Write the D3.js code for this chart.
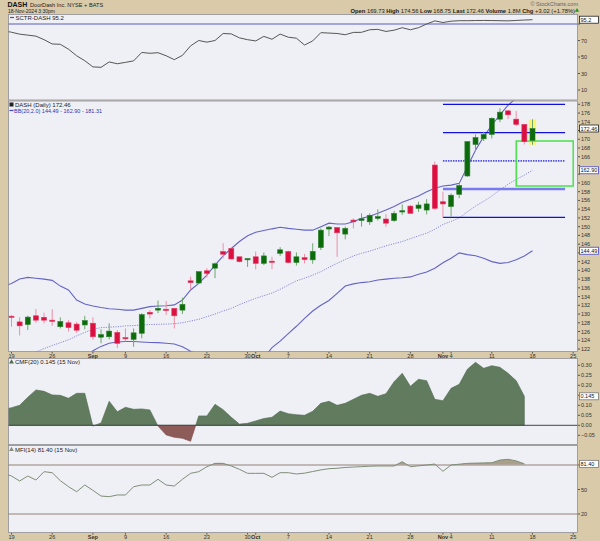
<!DOCTYPE html>
<html><head><meta charset="utf-8">
<script src="https://cdn.jsdelivr.net/npm/d3@7"></script>
<style>body{margin:0;background:#fff}svg{display:block}text{font-family:"Liberation Sans",Arial,sans-serif}</style>
</head><body><svg id="c" width="600" height="541"></svg>
<script>
// ---------- DATA ----------
const days = ["08-16","08-19","08-20","08-21","08-22","08-23","08-26","08-27","08-28","08-29","08-30",
"09-03","09-04","09-05","09-06","09-09","09-10","09-11","09-12","09-13","09-16","09-17","09-18","09-19","09-20",
"09-23","09-24","09-25","09-26","09-27","09-30","10-01","10-02","10-03","10-04","10-07","10-08","10-09","10-10","10-11",
"10-14","10-15","10-16","10-17","10-18","10-21","10-22","10-23","10-24","10-25","10-28","10-29","10-30","10-31",
"11-01","11-04","11-05","11-06","11-07","11-08","11-11","11-12","11-13","11-14","11-15","11-18",
"11-19","11-20","11-21","11-22","11-25"];
const tickDays = ["08-19","08-26","09-03","09-09","09-16","09-23","09-30","10-01","10-07","10-14","10-21","10-28","11-01","11-04","11-11","11-18","11-25"];
const tickText = ["19","26","Sep","9","16","23","30","Oct","7","14","21","28","Nov","4","11","18","25"];
const tickBold = ["Sep","Oct","Nov"];

const open  = [129.0,129.5,128.2,127.6,129.6,129.25,128.6,127.1,128.0,127.7,127.5,127.9,124.7,124.8,125.8,124.6,124.2,125.6,130.4,130.9,131.1,131.3,130.9,137.6,137.1,139.9,140.5,144.3,145.0,143.1,142.4,143.1,141.6,142.1,143.9,144.3,141.8,142.9,142.4,145.2,149.45,149.8,148.3,151.5,151.4,151.1,151.9,151.75,151.4,153.35,154.7,154.2,153.8,164.1,155.7,154.6,157.4,161.6,168.8,170.1,171.1,174.6,176.5,174.6,173.4,169.73];
const high  = [130.0,129.8,129.25,129.6,131.15,130.3,131.1,129.25,128.6,128.2,129.6,129.25,126.5,127.9,126.35,126.7,126.7,130.2,130.9,133.1,133.0,131.3,133.75,138.6,139.7,140.5,141.8,146.2,145.0,143.1,142.7,144.3,144.1,143.1,145.3,144.5,144.1,143.75,146.2,149.6,150.15,149.8,150.0,151.9,153.05,153.05,153.95,152.9,153.6,155.1,154.95,155.7,156.3,164.9,158.0,157.6,159.7,169.6,171.1,171.7,175.0,177.1,176.7,176.5,173.4,174.56];
const low   = [128.5,127.1,125.1,126.35,128.0,127.9,127.3,126.7,126.0,125.7,126.5,124.1,123.3,124.2,122.2,123.7,122.5,124.45,129.0,130.2,129.8,126.7,130.0,135.7,136.9,138.4,138.2,142.75,142.5,141.8,140.8,140.2,141.2,140.3,143.3,141.6,141.1,141.6,141.5,144.65,147.85,143.1,147.1,149.6,150.0,150.4,151.4,150.0,151.1,152.7,153.05,153.4,152.8,153.8,152.1,152.3,156.5,161.4,167.3,169.6,170.2,173.9,174.6,173.0,168.8,168.75];
const close = [129.4,129.3,127.3,129.3,128.6,128.6,128.4,128.3,126.9,126.3,128.5,124.8,125.3,126.1,123.3,124.45,125.7,129.85,130.0,131.3,130.8,129.6,132.2,137.2,139.7,139.3,141.5,143.7,142.6,142.0,142.7,141.6,143.3,141.9,144.7,141.8,143.1,142.45,144.35,149.2,149.9,148.6,149.6,151.1,151.8,152.6,152.3,150.8,153.05,153.65,153.05,154.95,155.2,154.2,155.2,157.2,159.4,169.45,170.4,171.1,174.8,176.2,175.6,173.4,169.44,172.46];

const bbUpper = [136.3,137.0,138.0,138.4,138.2,138.0,137.7,136.4,135.5,133.2,132.3,131.85,131.5,131.2,131.1,130.9,130.9,131.3,131.7,131.85,131.9,132.1,133.2,135.5,137.0,138.9,141.2,143.3,145.0,146.6,147.9,148.7,149.1,149.5,149.85,149.6,149.4,149.2,149.2,150.0,150.8,150.6,150.6,151.1,151.9,152.4,153.05,153.8,154.6,155.6,156.25,157.0,158.0,158.8,159.3,159.5,159.9,163.7,167.5,170.6,173.2,175.6,177.8,179.4,180.4,181.31];
const bbMid   = [119.5,119.9,120.4,120.8,121.3,122.1,122.8,123.45,124.1,125.0,125.8,126.5,126.9,127.0,127.1,127.3,127.35,127.5,127.6,127.65,127.7,127.8,128.0,128.4,128.8,129.4,130.0,130.7,131.3,132.15,132.9,133.6,134.2,134.8,135.65,136.65,137.6,138.2,138.9,139.7,140.7,141.6,142.5,143.3,143.9,144.4,145.0,145.6,146.1,146.6,147.25,147.9,148.5,149.4,150.5,151.2,152.0,153.4,154.7,155.8,157.0,158.4,159.7,160.8,161.8,162.9];
const bbLower = [102.7,102.8,102.8,103.2,104.4,106.2,107.9,110.5,112.7,116.8,119.3,121.6,122.6,123.3,123.6,123.7,123.7,123.6,123.5,123.45,123.3,123.15,122.5,121.5,120.6,119.9,118.8,118.1,117.6,117.7,117.9,118.5,120.0,122.3,123.8,125.5,127.2,129.0,130.7,132.0,133.1,134.75,136.4,136.9,137.2,137.4,137.8,138.0,138.2,138.3,138.5,139.1,139.6,140.5,141.75,142.75,144.0,143.6,143.35,142.75,142.0,141.6,141.8,142.4,143.3,144.49];

const sctr = [82,80.0,77.7,76.5,75.3,71,65.8,65.4,59.5,51.5,45.5,38,37.5,44,41.8,43.5,45.3,55.5,54.5,55.2,51.5,46.8,52,63.5,70,68,70,78.5,78,73.2,71,69.5,75,71.5,77.8,74,72.8,64.5,69.5,79.5,79,78.5,77,79.8,79.9,83,83.5,81,82.5,85.5,83,85.5,90,93.8,91.8,93.4,94,94,94.2,94.3,94.2,94,93.8,94.3,94.8,95.2];
const cmf  = [0.08,0.088,0.10,0.14,0.177,0.17,0.152,0.15,0.135,0.16,0.16,-0.004,0.012,0.12,0.068,0.09,0.08,0.082,0.077,-0.004,-0.048,-0.06,-0.065,-0.08,0.047,0.047,0.105,0.078,0.04,0.006,0.01,0.022,0.034,0.04,0.071,0.058,0.053,0.05,0.07,0.11,0.12,0.10,0.11,0.13,0.15,0.16,0.145,0.158,0.218,0.26,0.195,0.23,0.223,0.13,0.123,0.185,0.205,0.28,0.315,0.285,0.298,0.29,0.26,0.223,0.145];
const mfi  = [70,66.5,60.4,66.5,61.6,71.8,70.6,60.8,53.5,47.3,55.5,49,42,41.2,43.3,43.3,53.4,55.5,55.5,62.5,55.5,54.3,62.5,69.8,71.8,77.9,82,82,78.8,74.7,69.8,69.8,69.8,64.9,70.6,70.6,69,70,72,74,75.5,76,77,77.5,78,78.5,78.8,78.8,78.8,84,77.9,79,80,81.2,72.3,80,81,82,82.3,82.6,82.8,86,87,85,81.4];

const levels = [178.0,171.5,165.05,158.6,152.1];
const levelStyle = ["solid","solid","dotted","wide","solid"];
const levelFrom = "11-01", levelTo = "11-22";
const boxFrom = "11-14", boxTo = "11-25", boxTop = 169.6, boxBottom = 159.3;

const sctrTicks = [90,70,50,30,10];
const mainTicks = [122,124,126,128,130,132,134,136,138,140,142,144,146,148,150,152,154,156,158,160,162,164,166,168,170,172,174,176,178];
const cmfTicks = [0.30,0.25,0.20,0.15,0.10,0.05,0.00,-0.05];
const mfiTicks = [80,50,20];

// ---------- LAYOUT ----------
const L = 8, R = 578;
const P = {sctr:[14,100.5], main:[100.5,352], ax1:[352,358], cmf:[358,445], mfi:[445,533], ax2:[533,541]};
const svg = d3.select("#c");
const defs = svg.append("defs");
function clip(id, y0, y1){ defs.append("clipPath").attr("id",id).append("rect").attr("x",L).attr("y",y0).attr("width",R-L).attr("height",y1-y0); }
clip("cS",P.sctr[0],P.sctr[1]); clip("cM",P.main[0],P.main[1]); clip("cC",P.cmf[0],P.cmf[1]); clip("cF",P.mfi[0],P.mfi[1]);

const x = d3.scaleLinear().domain([1,70]).range([11.5,573.2]);
const xi = d => x(days.indexOf(d));
const yS = d3.scaleLinear().domain([0,100]).range([98.25,15.75]);
const yM = d3.scaleLinear().domain([122,178]).range([349,104.3]);
const yC = d3.scaleLinear().domain([0,0.3]).range([425.3,365.3]);
const yF = d3.scaleLinear().domain([20,80]).range([514,465]);

const TAN = "#d9caa9", BG = "#eff0f6";
svg.append("rect").attr("width",600).attr("height",541).attr("fill",TAN);
[P.sctr,P.main,P.cmf,P.mfi].forEach(p=>{
  svg.append("rect").attr("x",L).attr("y",p[0]).attr("width",R-L).attr("height",p[1]-p[0]).attr("fill",BG);
});

// ---------- HEADER ----------
const hdr = svg.append("g");
hdr.append("text").attr("x",7.5).attr("y",7).attr("font-size",7).attr("font-weight","bold").attr("fill","#111").text("DASH");
hdr.append("text").attr("x",30).attr("y",7).attr("font-size",5.6).attr("fill","#222").text("DoorDash Inc.  NYSE + BATS");
hdr.append("text").attr("x",8).attr("y",13.4).attr("font-size",5).attr("fill","#222").text("18-Nov-2024 3:30pm");
hdr.append("text").attr("x",578).attr("y",5.5).attr("font-size",5.5).attr("fill","#666").attr("text-anchor","end").text("© StockCharts.com");
const q = hdr.append("text").attr("x",575).attr("y",12.5).attr("font-size",5.8).attr("fill","#222").attr("text-anchor","end");
[["Open ","b"],["169.73  ",""],["High ","b"],["174.56  ",""],["Low ","b"],["168.75  ",""],["Last ","b"],["172.46  ",""],["Volume ","b"],["1.8M  ",""],["Chg ","b"],["+3.02 (+1.78%) ",""]]
  .forEach(t=>q.append("tspan").attr("font-weight",t[1]?"bold":"normal").text(t[0]));
hdr.append("path").attr("d",d3.symbol(d3.symbolTriangle,8)()).attr("transform","translate(577,10.5)").attr("fill","#1a9a1a");

// ---------- SCTR PANEL ----------
const gS = svg.append("g").attr("clip-path","url(#cS)");
gS.append("line").attr("x1",L).attr("x2",R).attr("y1",yS(90)).attr("y2",yS(90)).attr("stroke","#5b5bbd").attr("stroke-width",1.2);
gS.append("path").datum(sctr).attr("fill","none").attr("stroke","#555").attr("stroke-width",1)
  .attr("d",d3.line().x((d,i)=>x(i)).y(d=>yS(d)));
svg.append("line").attr("x1",10).attr("x2",14).attr("y1",17.5).attr("y2",17.5).attr("stroke","#555").attr("stroke-width",1.2);
svg.append("text").attr("x",15.5).attr("y",19.5).attr("font-size",6).attr("fill","#222").text("SCTR-DASH 95.2");

// ---------- MAIN PANEL ----------
const gM = svg.append("g").attr("clip-path","url(#cM)");
const lastI = close.length-1;
gM.append("rect").attr("x",x(lastI)-3.7).attr("width",7.4).attr("y",yM(high[lastI])).attr("height",yM(low[lastI])-yM(high[lastI]))
  .attr("fill","#fbf56a");
const bbLine = arr => d3.line().x((d,i)=>x(i)).y(d=>yM(d))(arr);
gM.append("path").attr("d",bbLine(bbUpper)).attr("fill","none").attr("stroke","#6464c4").attr("stroke-width",1.1);
gM.append("path").attr("d",bbLine(bbLower)).attr("fill","none").attr("stroke","#6464c4").attr("stroke-width",1.1);
gM.append("path").attr("d",bbLine(bbMid)).attr("fill","none").attr("stroke","#8a8ad8").attr("stroke-width",1).attr("stroke-dasharray","1.2,1.2");

const lx0 = xi(levelFrom), lx1 = xi(levelTo);
levels.forEach((v,k)=>{
  const s = levelStyle[k];
  const ln = gM.append("line").attr("x1",lx0).attr("x2",lx1).attr("y1",yM(v)).attr("y2",yM(v));
  if(s==="solid") ln.attr("stroke","#1010d8").attr("stroke-width",1.2);
  else if(s==="dotted") ln.attr("stroke","#5050e8").attr("stroke-width",1.8).attr("stroke-dasharray","1.5,1");
  else ln.attr("stroke","#7a7af0").attr("stroke-width",2.4);
});
gM.append("rect").attr("x",xi(boxFrom)).attr("y",yM(boxTop)).attr("width",xi(boxTo)-xi(boxFrom)).attr("height",yM(boxBottom)-yM(boxTop))
  .attr("fill","none").attr("stroke","#3ee03e").attr("stroke-width",1.4);

const idx = d3.range(close.length);
const up = i => close[i] >= open[i];
gM.selectAll("line.wick").data(idx).join("line").attr("class","wick")
  .attr("x1",i=>x(i)).attr("x2",i=>x(i)).attr("y1",i=>yM(high[i])).attr("y2",i=>yM(low[i]))
  .attr("stroke",i=>up(i)?"#6fa56f":"#ee8fa6").attr("stroke-width",1);
gM.selectAll("rect.body").data(idx).join("rect").attr("class","body")
  .attr("x",i=>x(i)-2.5).attr("width",5)
  .attr("y",i=>yM(Math.max(open[i],close[i])))
  .attr("height",i=>Math.max(1.2,Math.abs(yM(open[i])-yM(close[i]))))
  .attr("fill",i=>up(i)?"#0b6b0b":"#dc1040")
  .attr("stroke",i=>up(i)?"#2f7f2f":"#e03a60").attr("stroke-width",0.6);

svg.append("rect").attr("x",9.5).attr("y",102.5).attr("width",4).attr("height",4).attr("fill","#222");
svg.append("text").attr("x",15).attr("y",106.5).attr("font-size",6).attr("fill","#222").text("DASH (Daily) 172.46");
svg.append("line").attr("x1",9.5).attr("x2",13.5).attr("y1",110.5).attr("y2",110.5).attr("stroke","#4444bb").attr("stroke-width",1.2);
svg.append("text").attr("x",14).attr("y",112.5).attr("font-size",5.5).attr("fill","#3333aa").text("BB(20,2.0) 144.49 - 162.90 - 181.31");

// ---------- CMF PANEL ----------
const gC = svg.append("g").attr("clip-path","url(#cC)");
defs.append("clipPath").attr("id","cCpos").append("rect").attr("x",L).attr("y",P.cmf[0]).attr("width",R-L).attr("height",yC(0)-P.cmf[0]);
defs.append("clipPath").attr("id","cCneg").append("rect").attr("x",L).attr("y",yC(0)).attr("width",R-L).attr("height",P.cmf[1]-yC(0));
const cmfArea = d3.area().x((d,i)=>x(i)).y0(yC(0)).y1(d=>yC(d));
gC.append("g").attr("clip-path","url(#cCpos)").append("path").attr("d",cmfArea(cmf)).attr("fill","#617b5f").attr("stroke","#506a4e").attr("stroke-width",0.6);
gC.append("g").attr("clip-path","url(#cCneg)").append("path").attr("d",cmfArea(cmf)).attr("fill","#8e5c58").attr("stroke","#7a4a46").attr("stroke-width",0.6);
gC.append("line").attr("x1",L).attr("x2",R).attr("y1",yC(0)).attr("y2",yC(0)).attr("stroke","#444").attr("stroke-width",1);
svg.append("path").attr("d",d3.symbol(d3.symbolTriangle,10)()).attr("transform","translate(11.5,362)").attr("fill","#4f6a4d");
svg.append("text").attr("x",15).attr("y",364).attr("font-size",6).attr("fill","#222").text("CMF(20) 0.145 (15 Nov)");

// ---------- MFI PANEL ----------
const gF = svg.append("g").attr("clip-path","url(#cF)");
defs.append("clipPath").attr("id","cFob").append("rect").attr("x",L).attr("y",P.mfi[0]).attr("width",R-L).attr("height",yF(80)-P.mfi[0]);
gF.append("g").attr("clip-path","url(#cFob)").append("path")
  .attr("d",d3.area().x((d,i)=>x(i)).y0(yF(80)).y1(d=>yF(d))(mfi)).attr("fill","#a99f8b");
[80,20].forEach(v=>gF.append("line").attr("x1",L).attr("x2",R).attr("y1",yF(v)).attr("y2",yF(v)).attr("stroke","#b3a6a0").attr("stroke-width",1.3));
gF.append("path").datum(mfi).attr("fill","none").attr("stroke","#7e8e76").attr("stroke-width",1)
  .attr("d",d3.line().x((d,i)=>x(i)).y(d=>yF(d)));
svg.append("path").attr("d",d3.symbol(d3.symbolTriangle,10)()).attr("transform","translate(11.5,449.5)").attr("fill","#8a8a78");
svg.append("text").attr("x",15).attr("y",451.5).attr("font-size",6).attr("fill","#222").text("MFI(14) 81.40 (15 Nov)");

// panel borders (single separators)
[P.sctr,P.main,P.cmf,P.mfi].forEach(p=>{
  svg.append("rect").attr("x",L+0.5).attr("y",p[0]+0.5).attr("width",R-L-1).attr("height",p[1]-p[0]-1)
    .attr("fill","none").attr("stroke","#8c8c8c").attr("stroke-width",0.8);
});

// ---------- X AXES ----------
[P.ax1,P.ax2].forEach(p=>{
  tickDays.forEach((d,k)=>{
    const xx = xi(d);
    svg.append("line").attr("x1",xx).attr("x2",xx).attr("y1",p[0]).attr("y2",p[0]+1.5).attr("stroke","#555");
    svg.append("text").attr("x",xx).attr("y",p[0]+5.8).attr("text-anchor","middle").attr("font-size",5.6)
      .attr("font-weight",tickBold.includes(tickText[k])?"bold":"normal").attr("fill","#333").text(tickText[k]);
  });
});

// ---------- RIGHT AXES ----------
function rAxis(ticks, y, fmt, boxes){
  ticks.forEach(v=>{
    const yy = y(v);
    svg.append("line").attr("x1",R).attr("x2",R+2).attr("y1",yy).attr("y2",yy).attr("stroke","#555");
    if (boxes.some(b => Math.abs(y(b)-yy) < 6.5)) return;
    svg.append("text").attr("x",R+3).attr("y",yy+2).attr("font-size",5.5).attr("fill","#333").text(fmt(v));
  });
}
const lastCmf = cmf[cmf.length-1], lastMfi = mfi[mfi.length-1];
rAxis(sctrTicks, yS, d=>d, [95.2]);
rAxis(mainTicks, yM, d=>d, [close[lastI], bbMid[lastI], bbLower[lastI]]);
rAxis(cmfTicks, yC, d=>d3.format(".2f")(d), [lastCmf]);
rAxis(mfiTicks, yF, d=>d, [lastMfi]);
function vbox(v, y, col, txt){
  const yy = y(v);
  svg.append("rect").attr("x",R+1.5).attr("y",yy-3.5).attr("width",19).attr("height",7).attr("fill","#fff").attr("stroke",col).attr("stroke-width",0.8);
  svg.append("text").attr("x",R+2.5).attr("y",yy+2).attr("font-size",5.5).attr("fill","#111").text(txt);
}
vbox(95.2, yS, "#222", "95.2");
vbox(close[lastI], yM, "#222", "172.46");
vbox(bbMid[lastI], yM, "#4444cc", "162.90");
vbox(bbLower[lastI], yM, "#4444cc", "144.49");
vbox(lastCmf, yC, "#777", "0.145");
vbox(lastMfi, yF, "#777", "81.40");
</script></body></html>
